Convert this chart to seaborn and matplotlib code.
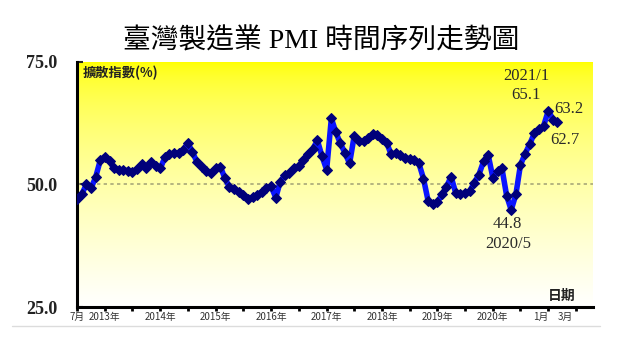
import numpy as np
import pandas as pd
import seaborn as sns
import matplotlib.pyplot as plt
from matplotlib.lines import Line2D

# Taiwan manufacturing PMI, monthly, Jul 2012 .. Mar 2021
pmi = [
    47.0, 48.0, 50.0, 49.2, 51.5, 54.9, 55.7, 54.8, 53.3, 52.9, 53.0, 52.8,
    52.6, 53.1, 54.2, 53.4, 54.6, 53.8, 53.3, 55.6, 56.2, 56.4, 56.5, 57.0,
    58.5, 56.6, 54.5, 53.6, 52.8, 52.4, 53.3, 53.6, 51.4, 49.5, 49.0, 48.5,
    47.9, 47.0, 47.4, 47.9, 48.5, 49.2, 49.6, 47.3, 50.6, 51.9, 52.3, 53.4,
    53.8, 55.0, 56.3, 57.2, 59.0, 55.8, 53.0, 63.5, 60.8, 58.4, 56.5, 54.3,
    59.8, 58.8, 58.8, 59.5, 60.3, 60.2, 59.3, 58.5, 56.2, 56.4, 56.0, 55.5,
    55.2, 55.0, 54.3, 51.2, 46.6, 46.0, 46.4, 48.0, 49.5, 51.6, 48.3, 48.1,
    48.2, 48.6, 50.4, 52.0, 54.7, 56.1, 51.4, 52.7, 53.3, 47.7, 44.8, 48.0,
    54.0, 56.3, 58.3, 60.5, 61.3, 62.0, 65.1, 63.2, 62.7,
]
months = pd.date_range('2012-07-01', periods=len(pmi), freq='MS')

tick_dates = ['2012-07-01', '2013-01-01', '2014-01-01', '2015-01-01', '2016-01-01',
              '2017-01-01', '2018-01-01', '2019-01-01', '2020-01-01', '2021-01-01',
              '2021-03-01']
tick_labels = ['7月', '2013年', '2014年', '2015年', '2016年', '2017年', '2018年',
               '2019年', '2020年', '1月', '3月']
half_years = pd.date_range('2012-07-01', '2021-07-01', freq='6MS')

# annotated points: (month, text, pixel offset)
note_months = ['2021-01-01', '2021-01-01', '2021-02-01', '2021-03-01', '2020-05-01', '2020-05-01']
note_texts = ['65.1', '2021/1', '63.2', '62.7', '44.8', '2020/5']
note_offsets = [(-22, 16), (-22, 35), (16, 11), (8, -18), (-4, -14), (-3, -34)]

df = pd.DataFrame({'month': months, 'pmi': pmi})

sns.set_theme(style='white')
plt.rcParams['font.family'] = ['Liberation Serif', 'Noto Sans CJK TC']

fig = plt.figure(figsize=(6.4, 3.6), dpi=100)
ax = fig.add_axes([77 / 640, 1 - 307 / 360, (593 - 77) / 640, (307 - 62) / 360])

# yellow -> white vertical gradient behind the plot
s = np.linspace(0, 1, 256)
grad = np.ones((256, 1, 3))
grad[:, 0, 2] = s ** 0.6
ax.imshow(grad, extent=[0, 1, 0, 1], transform=ax.transAxes, aspect='auto', zorder=0)

ax.axhline(50, color='#a8a878', lw=1.2, ls=(0, (2, 2)), zorder=1)

sns.lineplot(data=df, x='month', y='pmi', ax=ax, color='#0a14ff', linewidth=4,
             marker='D', markersize=5.5, markerfacecolor='#00007a',
             markeredgecolor='#00007a', zorder=3)

for m, t, off in zip(note_months, note_texts, note_offsets):
    d = pd.Timestamp(m)
    v = df.loc[df['month'] == d, 'pmi'].iloc[0]
    ax.annotate(t, xy=(d, v), xytext=off, textcoords='offset pixels',
                ha='center', va='center', fontsize=12, color='#2a2a2a',
                family='Liberation Serif')

ax.text(0.012, 0.955, '擴散指數(%)', transform=ax.transAxes, ha='left', va='center',
        fontsize=9.5, fontweight='bold', color='#222222',
        family=['Noto Sans CJK TC'])
ax.text(0.94, 0.045, '日期', transform=ax.transAxes, ha='center', va='center',
        fontsize=10, fontweight='bold', color='#222222',
        family=['Noto Sans CJK TC'])

ax.set_xlim(pd.Timestamp('2012-07-01'), pd.Timestamp('2021-10-22'))
ax.set_ylim(25, 75)
ax.set_xlabel('')
ax.set_ylabel('')

ax.set_yticks([25, 50, 75])
ax.set_yticklabels(['25.0', '50.0', '75.0'], fontsize=13, fontweight='bold',
                   family='Liberation Serif', color='#222222')
ax.tick_params(axis='y', direction='in', length=4, width=1.5, pad=14, left=True)

ax.set_xticks(pd.to_datetime(tick_dates))
ax.set_xticklabels(tick_labels, fontsize=7, color='#333333',
                   family=['Noto Sans CJK TC'])
ax.set_xticks(half_years, minor=True)
ax.xaxis.remove_overlapping_locs = False
ax.tick_params(axis='x', which='major', length=0, pad=3.5)
ax.tick_params(axis='x', which='minor', direction='out', length=3, width=2,
               bottom=True, color='black')
lbls = ax.get_xticklabels()
lbls[-2].set_ha('right')
lbls[-1].set_ha('left')

for side in ['top', 'right']:
    ax.spines[side].set_visible(False)
for side in ['left', 'bottom']:
    ax.spines[side].set_color('black')
    ax.spines[side].set_linewidth(2.2)

fig.text(0.502, 1 - 41 / 360, '臺灣製造業 PMI 時間序列走勢圖', ha='center', va='center',
         fontsize=20, color='black')
fig.add_artist(Line2D([12 / 640, 600 / 640], [1 - 326 / 360] * 2, color='#dcdcdc',
                      lw=1, transform=fig.transFigure))

fig.savefig('out.png', dpi=100)
